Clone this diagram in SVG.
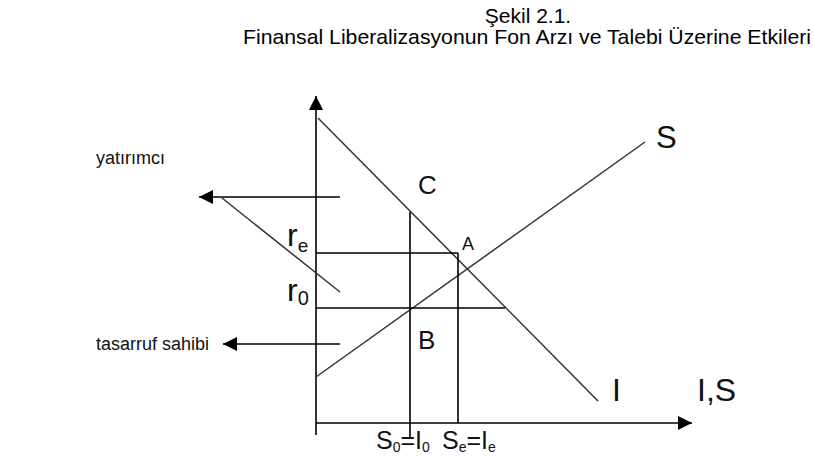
<svg xmlns="http://www.w3.org/2000/svg" width="814" height="457" viewBox="0 0 814 457">
<defs>
<marker id="ah" viewBox="0 0 10 10" refX="10" refY="5" markerWidth="14" markerHeight="14" markerUnits="userSpaceOnUse" orient="auto">
<path d="M0,0 L10,5 L0,10 z" fill="#000"/>
</marker>
<style>
.ax{stroke:#000;stroke-width:1.6;fill:none}
.ln{stroke:#333;stroke-width:1.5;fill:none}
.t{font-family:"Liberation Sans",Arial,sans-serif;fill:#000}
.lb{font-family:"Liberation Sans",Arial,sans-serif;fill:#111}
</style>
</defs>
<rect width="814" height="457" fill="#fff"/>
<g id="title">
<text class="t" x="528" y="23" font-size="21" text-anchor="middle">Şekil 2.1.</text>
<text class="t" x="527" y="44" font-size="21" text-anchor="middle" textLength="568" lengthAdjust="spacingAndGlyphs">Finansal Liberalizasyonun Fon Arzı ve Talebi Üzerine Etkileri</text>
</g>
<g id="connectors">
<line class="ax" x1="316" y1="435" x2="316" y2="96" marker-end="url(#ah)"/>
<line class="ax" x1="316" y1="423" x2="692" y2="423" marker-end="url(#ah)"/>
<line class="ln" x1="318" y1="118" x2="598" y2="401"/>
<line class="ln" x1="316" y1="377" x2="645" y2="142"/>
<line class="ax" x1="340" y1="197" x2="199" y2="197" marker-end="url(#ah)"/>
<line class="ln" x1="222" y1="198" x2="340" y2="292"/>
<line class="ax" x1="340" y1="344" x2="223" y2="344" marker-end="url(#ah)"/>
<line class="ax" x1="316" y1="253" x2="458" y2="253"/>
<line class="ax" x1="316" y1="308" x2="505" y2="308"/>
<line class="ax" x1="410" y1="212" x2="410" y2="437"/>
<line class="ax" x1="458" y1="253" x2="458" y2="423"/>
</g>
<g id="yatirimci"><text class="lb" x="96" y="164" font-size="18">yatırımcı</text></g>
<g id="tasarruf"><text class="lb" x="96" y="350" font-size="18">tasarruf sahibi</text></g>
<g id="label-C"><text class="lb" x="418" y="194" font-size="26">C</text></g>
<g id="label-A"><text class="lb" x="462" y="250" font-size="18">A</text></g>
<g id="label-B"><text class="lb" x="418" y="349" font-size="26">B</text></g>
<g id="label-S"><text class="lb" x="656" y="148" font-size="31">S</text></g>
<g id="label-I"><text class="lb" x="612" y="401" font-size="32">I</text></g>
<g id="label-IS"><text class="lb" x="697" y="401" font-size="32">I,S</text></g>
<g id="label-re">
<text class="lb" x="287" y="246" font-size="32">r<tspan font-size="19" dy="6">e</tspan></text>
</g>
<g id="label-r0">
<text class="lb" x="287" y="301" font-size="32">r<tspan font-size="20" dy="4">0</tspan></text>
</g>
<g id="label-S0I0">
<text class="lb" x="376" y="449" font-size="25">S<tspan font-size="14" dy="3">0</tspan><tspan dy="-3">=I</tspan><tspan font-size="14" dy="3">0</tspan></text>
</g>
<g id="label-SeIe">
<text class="lb" x="442" y="449" font-size="25">S<tspan font-size="14" dy="3">e</tspan><tspan dy="-3">=I</tspan><tspan font-size="14" dy="3">e</tspan></text>
</g>
</svg>
